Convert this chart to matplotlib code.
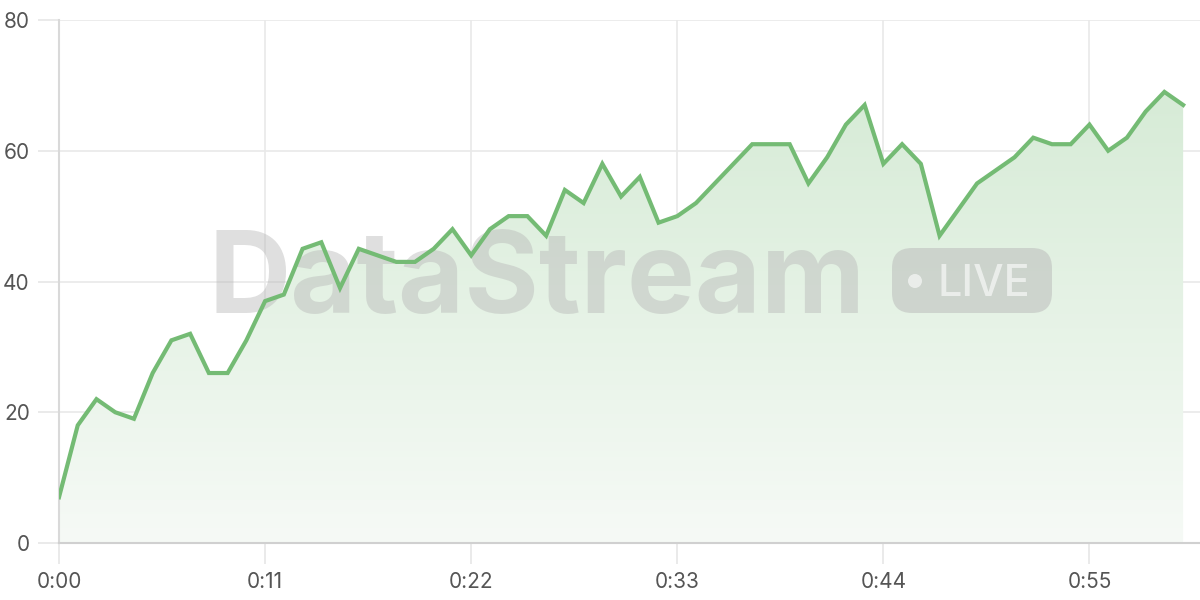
import matplotlib.pyplot as plt
import numpy as np
from matplotlib.patches import FancyBboxPatch, Circle

# seconds and values
t = list(range(61))
vals = [7, 18, 22, 20, 19, 26, 31, 32, 26, 26, 31, 37, 38, 45, 46, 39, 45, 44, 43, 43,
        45, 48, 44, 48, 50, 50, 47, 54, 52, 58, 53, 56, 49, 50, 52, 55, 58, 61, 61, 61,
        55, 59, 64, 67, 58, 61, 58, 47, 51, 55, 57, 59, 62, 61, 61, 64, 60, 62, 66, 69, 67]
xticks = [0, 11, 22, 33, 44, 55]
xlabels = ['0:00', '0:11', '0:22', '0:33', '0:44', '0:55']
yticks = [0, 20, 40, 60, 80]

line_col = '#74bb74'
plt.rcParams['font.family'] = ['Inter', 'DejaVu Sans']

fig = plt.figure(figsize=(12, 6), dpi=100)
ax = fig.add_axes([59/1200, 57/600, 1141/1200, 523/600])
ax.set_xlim(0, 60.9)
ax.set_ylim(0, 80)

# gradient fill under the line
grad = np.linspace(0, 1, 256).reshape(-1, 1)
cmap = plt.matplotlib.colors.LinearSegmentedColormap.from_list('g', ['#f6faf6', '#d6ebd6'])
im = ax.imshow(grad, extent=[0, 60, 0, 70], origin='lower', aspect='auto', cmap=cmap, zorder=1)
clip = plt.Polygon(np.column_stack([t + t[::-1], vals + [0] * len(t)]), transform=ax.transData)
im.set_clip_path(clip)

# watermark
ax.text(0.131, 0.44, 'DataStream', transform=ax.transAxes, fontsize=82, fontweight='bold',
        color='#b8b8b8', alpha=0.45, ha='left', va='baseline', zorder=2)
pill = FancyBboxPatch((8.92, 2.87), 1.6, 0.65, transform=fig.dpi_scale_trans,
                      boxstyle='round,pad=0,rounding_size=0.2',
                      facecolor='#b8b8b8', alpha=0.5, edgecolor='none', zorder=2)
ax.add_patch(pill)
dot = Circle((9.15, 3.19), 0.07, transform=fig.dpi_scale_trans, facecolor='white',
             alpha=0.6, edgecolor='none', zorder=3)
ax.add_patch(dot)
ax.text(9.84, 3.035, 'LIVE', transform=fig.dpi_scale_trans, fontsize=31, color='white',
        alpha=0.6, ha='center', va='baseline', zorder=3, fontweight='medium')

ax.plot(t, vals, color=line_col, linewidth=3, zorder=4, solid_joinstyle='miter')

ax.set_xticks(xticks)
ax.set_xticklabels(xlabels)
ax.set_yticks(yticks)
ax.grid(True, color='#e9e9e9', linewidth=1.2, zorder=0)
ax.set_axisbelow(True)
ax.tick_params(axis='both', length=15, width=1.2, color='#e6e6e6', labelsize=15,
               labelcolor='#555555', pad=6)
for s in ['top', 'right']:
    ax.spines[s].set_visible(False)
ax.spines['left'].set_color('#d9d9d9')
ax.spines['bottom'].set_color('#d0d0d0')
ax.spines['left'].set_linewidth(1.5)
ax.spines['bottom'].set_linewidth(1.5)

fig.savefig('out.png', dpi=100)
